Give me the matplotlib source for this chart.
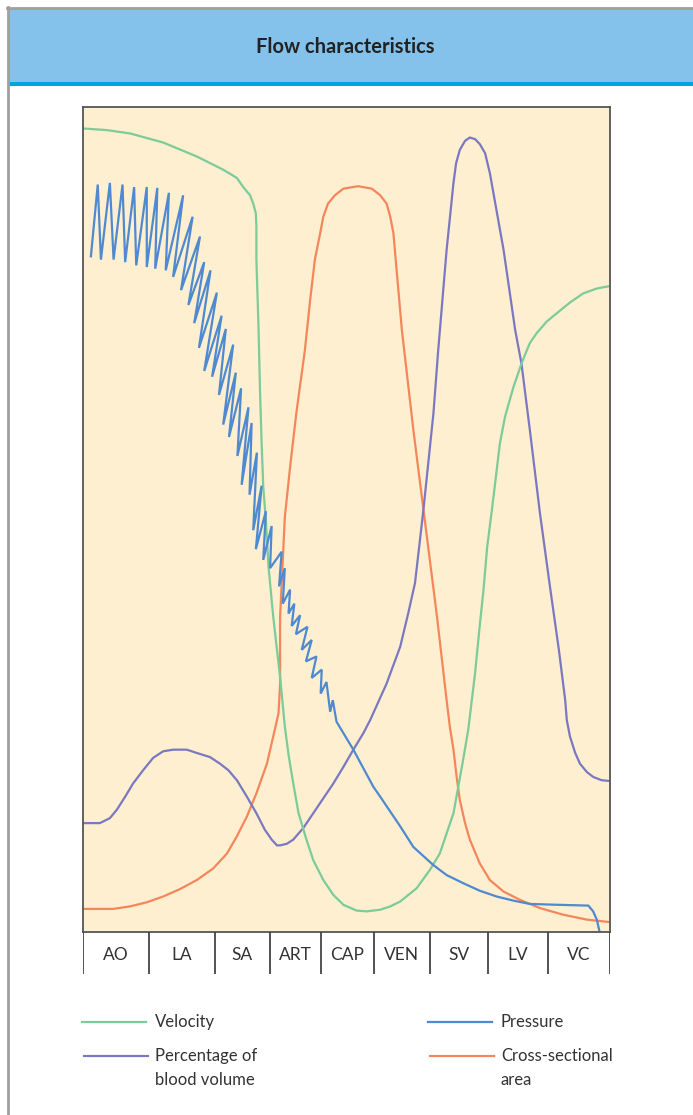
import numpy as np
import matplotlib.pyplot as plt
from matplotlib.lines import Line2D
from matplotlib.patches import Rectangle

plt.rcParams['font.family'] = ['Lato', 'DejaVu Sans']

# segments of the circulation (boundaries as % of the path)
segments = ['AO', 'LA', 'SA', 'ART', 'CAP', 'VEN', 'SV', 'LV', 'VC']
seg_edges = [0, 12.5, 25.0, 35.5, 45.2, 55.2, 65.8, 76.9, 88.2, 100]

# velocity
vel_x = [0, 4.5, 8.9, 15.2, 21.6, 26.6, 29.2, 30.4, 31.7, 32.3, 32.8, 32.9, 32.9, 33.3,
         33.6, 33.9, 34.2, 34.7, 35.2, 36.1, 37.4, 38.3, 39.0, 39.9, 40.9, 42.4, 43.7,
         45.6, 47.5, 49.4, 51.9, 53.8, 56.4, 58.3, 60.2, 63.3, 65.8, 67.7, 70.3, 72.0,
         73.1, 74.4, 75.2, 76.0, 76.7, 77.6, 78.5, 79.1, 80.1, 81.7, 83.2, 84.8, 86.1,
         88.0, 89.9, 92.4, 94.9, 97.5, 100]
vel_y = [97.4, 97.2, 96.8, 95.7, 94.0, 92.4, 91.4, 90.3, 89.3, 88.3, 87.1, 85.5, 81.5, 73.4,
         65.3, 59.2, 54.0, 49.9, 44.3, 38.2, 30.9, 24.9, 21.5, 18.0, 14.4, 11.2, 8.7,
         6.3, 4.5, 3.3, 2.6, 2.5, 2.7, 3.1, 3.7, 5.3, 7.5, 9.5, 14.4, 20.4,
         24.5, 31.4, 36.6, 41.5, 46.7, 51.2, 56.0, 59.2, 62.5, 66.1, 68.9, 71.4, 72.6,
         74.0, 75.0, 76.3, 77.4, 78.0, 78.3]

# cross-sectional area
cs_x = [0, 5.7, 8.9, 12.1, 15.2, 18.4, 21.6, 24.7, 27.3, 29.2, 31.1, 32.9, 34.9, 36.1,
        37.1, 37.4, 37.4, 37.7, 38.3, 39.3, 40.5, 42.1, 43.1, 44.0, 45.0, 45.6, 46.5,
        47.8, 49.4, 52.2, 54.8, 56.4, 57.6, 58.3, 58.9, 60.5, 62.7, 64.6, 67.1, 69.0,
        69.6, 70.3, 70.9, 71.5, 72.5, 73.4, 75.3, 77.2, 79.8, 82.9, 86.7, 91.1, 95.6, 100]
cs_y = [2.8, 2.8, 3.1, 3.6, 4.3, 5.2, 6.3, 7.7, 9.5, 11.6, 14.0, 16.8, 20.4, 23.7,
        26.5, 30.1, 38.2, 42.3, 50.3, 56.4, 63.0, 70.5, 76.6, 81.5, 84.7, 86.7, 88.3,
        89.3, 90.1, 90.4, 90.1, 89.3, 88.3, 86.7, 84.7, 73.0, 60.8, 51.2, 38.6, 28.1,
        24.9, 22.1, 18.8, 16.0, 13.2, 11.2, 8.3, 6.3, 4.9, 3.9, 2.9, 2.1, 1.5, 1.2]

# percentage of blood volume
bv_x = [0, 3.2, 5.1, 6.4, 8.0, 9.5, 11.4, 13.3, 15.2, 17.1, 19.7, 21.6, 24.1, 26.0,
        27.6, 29.2, 31.1, 32.9, 34.5, 35.8, 36.8, 37.4, 38.7, 39.9, 41.8, 43.7, 45.6,
        47.5, 49.4, 51.3, 53.2, 54.5, 57.6, 60.2, 61.7, 63.0, 64.6, 66.5, 67.4, 69.0,
        70.3, 70.8, 71.5, 72.5, 73.4, 74.4, 75.3, 76.3, 77.2, 77.9, 79.8, 82.0, 83.2,
        84.8, 86.7, 88.6, 90.3, 91.5, 91.8, 92.4, 93.4, 94.3, 95.6, 96.8, 98.4, 100]
bv_y = [13.2, 13.2, 13.8, 14.8, 16.4, 18.0, 19.6, 21.1, 21.9, 22.1, 22.1, 21.7, 21.2, 20.4,
        19.6, 18.4, 16.4, 14.4, 12.4, 11.2, 10.5, 10.5, 10.7, 11.2, 12.6, 14.4, 16.2,
        18.0, 20.0, 22.1, 24.1, 25.7, 30.1, 34.6, 38.6, 42.3, 51.2, 62.9, 70.5, 82.7,
        90.8, 93.2, 94.8, 95.9, 96.3, 96.1, 95.5, 94.4, 92.0, 89.5, 82.7, 73.0, 68.9,
        60.8, 50.8, 41.9, 34.2, 28.1, 25.7, 23.7, 21.7, 20.4, 19.4, 18.8, 18.4, 18.3]

# pressure: pulsatile part (troughs and peaks alternate), then smooth tail
p_trough_x = [1.5, 3.4, 5.8, 8.0, 10.1, 12.1, 13.7, 15.7, 17.1, 18.6, 20.0, 21.1, 22.0,
              23.0, 24.5, 25.8, 26.6, 27.7, 29.3, 30.1, 31.6, 32.3, 32.8, 34.2, 35.5,
              37.2, 37.9, 39.0, 39.6, 40.4, 41.5, 42.3, 43.4, 45.1, 46.9]
p_trough_y = [81.9, 81.5, 81.5, 81.2, 80.8, 80.6, 80.4, 80.2, 79.4, 77.8, 76.0, 73.8, 70.8,
              68.0, 67.3, 65.1, 61.5, 60.0, 57.7, 54.2, 53.0, 48.7, 46.4, 45.1, 44.1,
              41.9, 39.8, 38.6, 37.1, 36.1, 34.2, 32.8, 30.8, 28.9, 26.7]
p_peak_x = [2.8, 5.1, 7.5, 9.7, 12.1, 14.1, 16.3, 19.0, 20.8, 22.2, 23.0, 24.2, 25.4,
            26.3, 27.1, 28.5, 29.0, 30.0, 31.4, 32.0, 33.0, 33.9, 34.7, 35.8, 37.7,
            38.3, 39.3, 40.1, 41.2, 42.6, 43.4, 44.3, 45.3, 46.2, 47.4]
p_peak_y = [90.6, 90.8, 90.6, 90.3, 90.3, 90.2, 89.6, 89.3, 86.7, 84.3, 81.2, 80.2, 77.5,
            74.7, 73.1, 71.2, 67.8, 65.9, 63.6, 61.7, 58.1, 54.1, 51.0, 49.2, 46.1,
            44.1, 41.5, 39.8, 38.4, 37.0, 35.4, 33.4, 31.8, 30.3, 28.1]
p_tail_x = [48.1, 51.3, 55.1, 56.4, 60.2, 62.7, 66.5, 69.0, 72.2, 75.3, 78.5, 81.7, 84.8,
            90.0, 95.9, 96.8, 97.5, 98.1]
p_tail_y = [25.5, 22.1, 17.6, 16.4, 12.8, 10.3, 8.1, 6.9, 5.9, 5.0, 4.3, 3.8, 3.4,
            3.3, 3.2, 2.5, 1.5, -0.2]

c_vel = '#7ccb98'
c_press = '#4f89d0'
c_bv = '#7b78c2'
c_cs = '#f5865c'
bg = '#fdefd0'

W, H = 693, 1115
fig = plt.figure(figsize=(W / 100, H / 100), dpi=100)

def fx(px):
    return px / W

def fy(py):
    return 1 - py / H

# header band
fig.add_artist(Rectangle((fx(8), fy(82)), 1, 74 / H, transform=fig.transFigure,
                         facecolor='#84c2eb', edgecolor='none'))
fig.add_artist(Rectangle((fx(8), fy(86)), 1, 4 / H, transform=fig.transFigure,
                         facecolor='#02a3dc', edgecolor='none'))
fig.add_artist(Line2D([fx(8), fx(8)], [0, fy(7)], transform=fig.transFigure,
                      color='#a0a0a0', lw=2))
fig.add_artist(Line2D([fx(7), 1], [fy(8), fy(8)], transform=fig.transFigure,
                      color='#a0a0a0', lw=2))
fig.text(fx(345), fy(47), 'Flow characteristics', ha='center', va='center',
         fontsize=14.5, fontweight='bold', color='#222222')

# main chart
ax = fig.add_axes([fx(83), fy(932), 527 / W, 825 / H])
ax.set_facecolor(bg)
ax.set_xlim(0, 100)
ax.set_ylim(0, 100)
ax.set_xticks([])
ax.set_yticks([])
for s in ax.spines.values():
    s.set_color('#555555')
    s.set_linewidth(1.3)

px_ = np.empty(2 * len(p_peak_x))
py_ = np.empty(2 * len(p_peak_y))
px_[0::2], px_[1::2] = p_trough_x, p_peak_x
py_[0::2], py_[1::2] = p_trough_y, p_peak_y
press_x = np.concatenate([px_, p_tail_x])
press_y = np.concatenate([py_, p_tail_y])

lw = 1.6
ax.plot(cs_x, cs_y, color=c_cs, lw=lw, solid_joinstyle='round')
ax.plot(bv_x, bv_y, color=c_bv, lw=lw, solid_joinstyle='round')
ax.plot(vel_x, vel_y, color=c_vel, lw=lw, solid_joinstyle='round')
ax.plot(press_x, press_y, color=c_press, lw=lw, solid_joinstyle='miter')

# segment row
ax2 = fig.add_axes([fx(83), fy(974), 527 / W, 42 / H])
ax2.set_xlim(0, 100)
ax2.set_ylim(0, 1)
ax2.axis('off')
for e in seg_edges:
    ax2.axvline(e, color='#444444', lw=1.3)
for i, name in enumerate(segments):
    ax2.text((seg_edges[i] + seg_edges[i + 1]) / 2, 0.45, name, ha='center', va='center',
             fontsize=12.5, color='#333333')

# legend
legend_items = [
    (c_vel, ['Velocity'], 82, 155, 1022),
    (c_press, ['Pressure'], 428, 501, 1022),
    (c_bv, ['Percentage of', 'blood volume'], 84, 155, 1056),
    (c_cs, ['Cross-sectional', 'area'], 430, 501, 1056),
]
for col, lines, x0, tx, y in legend_items:
    fig.add_artist(Line2D([fx(x0), fx(x0 + 64)], [fy(y), fy(y)], transform=fig.transFigure,
                          color=col, lw=lw))
    for k, line in enumerate(lines):
        fig.text(fx(tx), fy(y + 24 * k), line, ha='left', va='center',
                 fontsize=12, color='#333333')

fig.savefig('out.png', dpi=100)
